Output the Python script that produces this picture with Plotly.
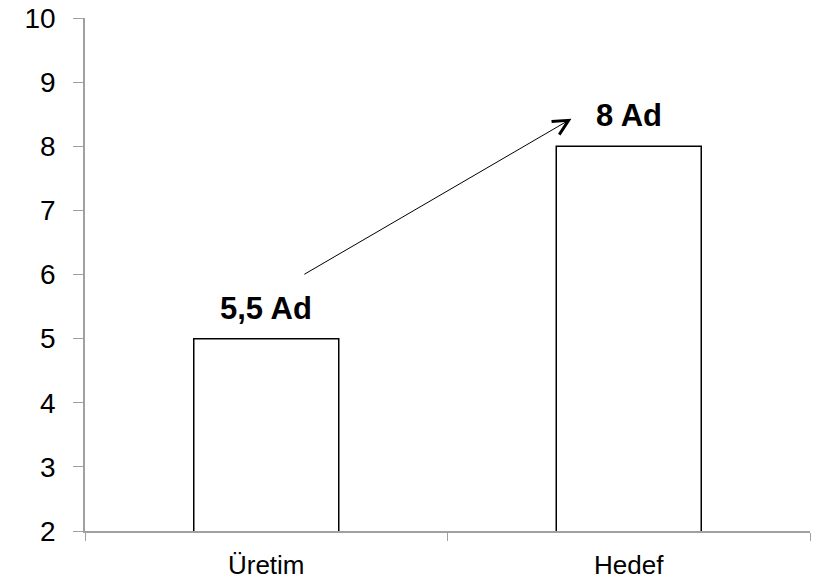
import plotly.graph_objects as go

categories = ["Üretim", "Hedef"]
values = [5, 8]
labels = ["5,5 Ad", "8 Ad"]
y_ticks = [2, 3, 4, 5, 6, 7, 8, 9, 10]

fig = go.Figure()
fig.add_trace(go.Bar(
    x=categories, y=values,
    marker=dict(color="white", line=dict(color="black", width=1.5)),
    width=0.40,
))

for c, v, t in zip(categories, values, labels):
    fig.add_annotation(x=c, y=v, text="<b>%s</b>" % t, showarrow=False,
                       yanchor="bottom", yshift=11,
                       font=dict(family="Liberation Sans, Arial", size=31, color="black"))

# arrow from Üretim toward Hedef
fig.add_annotation(x=0.842, y=8.43, ax=0.101, ay=5.99, xref="x", yref="y",
                   axref="x", ayref="y", text="", showarrow=True,
                   arrowhead=5, arrowsize=3, arrowwidth=1, arrowcolor="black")

fig.update_layout(
    width=813, height=585,
    margin=dict(l=85, r=3, t=18, b=54),
    plot_bgcolor="white", paper_bgcolor="white",
    showlegend=False,
    font=dict(family="Liberation Sans, Arial", size=27, color="black"),
)
fig.update_xaxes(range=[-0.5, 1.5], showline=True, linecolor="#a0a0a0", linewidth=1.5,
                 ticks="outside", tickson="boundaries", ticklen=8, tickcolor="#a0a0a0",
                 showgrid=False, tickfont=dict(size=26), ticklabelstandoff=10,
                 automargin=False)
fig.update_yaxes(range=[2, 10], tickvals=y_ticks, showline=True, linecolor="#a0a0a0",
                 linewidth=1.5, ticks="outside", ticklen=10, tickcolor="#a0a0a0",
                 showgrid=False, zeroline=False, tickfont=dict(size=28),
                 ticklabelstandoff=12, automargin=False)

fig.write_html("out.html")
